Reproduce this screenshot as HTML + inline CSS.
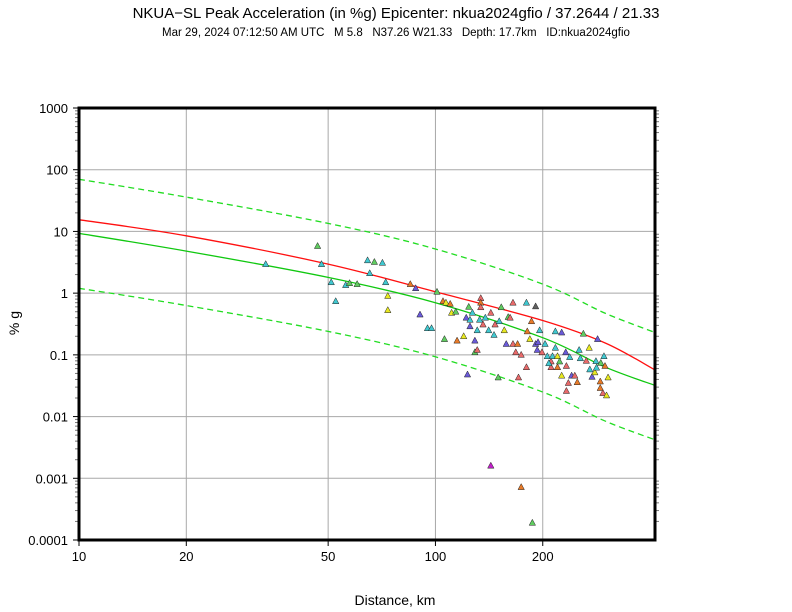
<!DOCTYPE html>
<html><head><meta charset="utf-8"><style>
body{margin:0;background:#fff;}
svg{display:block;font-family:"Liberation Sans",sans-serif;}
text{white-space:pre;}
</style></head><body>
<svg id="chart" width="792" height="612" xmlns="http://www.w3.org/2000/svg">
<text x="396" y="18" font-size="15" text-anchor="middle">NKUA−SL Peak Acceleration (in %g) Epicenter: nkua2024gfio / 37.2644 / 21.33</text>
<text x="396" y="36" font-size="11.5" text-anchor="middle" xml:space="preserve">Mar 29, 2024 07:12:50 AM UTC   M 5.8   N37.26 W21.33   Depth: 17.7km   ID:nkua2024gfio</text>
<text x="395" y="605" font-size="14" text-anchor="middle">Distance, km</text>
<text x="0" y="0" font-size="14" text-anchor="middle" transform="translate(19,323) rotate(-90)">% g</text>
<g id="grid"></g><g id="curves"></g><g id="pts"></g><g id="axes"></g>
</svg>
<script>
const xTicks=[10,20,50,100,200];
const xTickLabels=["10","20","50","100","200"];
const yTicks=[1000,100,10,1,0.1,0.01,0.001,0.0001];
const yTickLabels=["1000","100","10","1","0.1","0.01","0.001","0.0001"];
const curveDist=[10,20,50,100,200,300,413];
const redMean=[15.5,8.5,2.95,1.05,0.36,0.155,0.057];
const greenMean=[9.3,4.8,1.8,0.70,0.19,0.063,0.032];
const upperBand=[70,36,13.5,5.2,1.4,0.47,0.23];
const lowerBand=[1.2,0.63,0.24,0.093,0.025,0.0084,0.0042];
const stDist=[33.4,46.7,47.9,51,52.5,56,57.4,60.3,64.5,65.4,67.4,71,72.5,73.5,73.5,85,88,90.5,95,97.5,101,105,107,110,106,111,114,115,120,122,125,124,125,127,129,129,123,131,131,133,134,134,134,136,138,141,143,143,146,147,150,151,153,156,160,162,165,165,168,170,171,174,174,180,180,181,184,186,187,191,191,193,196,199,206,211,211,213,217,217,220,220,223,226,226,232,233,233,236,238,241,246,250,253,255,260,265,270,271,275,280,282,283,285,290,290,291,297,295,305,302,299,194,203,208,158];
const stPga=[2.95,5.8,2.95,1.5,0.74,1.35,1.45,1.4,3.4,2.1,3.2,3.1,1.5,0.9,0.53,1.4,1.2,0.45,0.27,0.27,1.05,0.74,0.7,0.67,0.18,0.48,0.5,0.17,0.2,0.4,0.37,0.6,0.29,0.48,0.17,0.11,0.048,0.12,0.25,0.37,0.83,0.7,0.59,0.31,0.4,0.25,0.48,0.0016,0.21,0.31,0.043,0.35,0.59,0.25,0.41,0.4,0.7,0.15,0.11,0.15,0.043,0.1,0.00072,0.063,0.7,0.24,0.18,0.35,0.00019,0.61,0.15,0.12,0.25,0.11,0.095,0.078,0.063,0.095,0.24,0.13,0.063,0.095,0.078,0.046,0.23,0.11,0.066,0.026,0.035,0.092,0.046,0.046,0.036,0.12,0.088,0.22,0.08,0.13,0.058,0.044,0.052,0.079,0.062,0.18,0.037,0.029,0.074,0.095,0.024,0.043,0.022,0.066,0.16,0.15,0.073,0.15];
const stColor=[0,5,0,0,0,0,5,5,0,0,5,0,0,1,1,2,4,4,0,0,5,2,1,2,5,1,5,2,1,4,0,5,4,0,4,5,4,3,0,0,3,2,3,3,0,0,3,6,0,3,5,0,5,1,5,3,3,3,3,2,3,3,2,3,0,2,1,2,5,7,4,4,0,3,0,3,3,0,0,0,2,1,5,1,4,4,3,3,3,0,4,3,2,0,0,5,3,1,0,4,1,0,0,4,2,2,5,0,3,1,1,2,4,0,0,4];
const palette=["#40c8d0","#e8e820","#e87a28","#e86a6a","#6a5ad8","#60cc60","#c020c8","#606060"];
const L=79,R=655,T=108,B=540,X0=1,X1=Math.log10(413),Y0=-4,Y1=3;
const sx=d=>L+(Math.log10(d)-X0)/(X1-X0)*(R-L);
const sy=v=>B-(Math.log10(v)-Y0)/(Y1-Y0)*(B-T);
const NS="http://www.w3.org/2000/svg";
function mk(tag,attrs,parent){const e=document.createElementNS(NS,tag);for(const k in attrs)e.setAttribute(k,attrs[k]);document.getElementById(parent).appendChild(e);return e;}
xTicks.forEach((t,i)=>{
  const g=mk('line',{x1:sx(t),x2:sx(t),y1:T,y2:B,stroke:'#a8a8a8','stroke-width':1},'grid');
  
  
  const tx=mk('text',{x:sx(t),y:B+21,'font-size':13,'text-anchor':'middle'},'axes');tx.textContent=xTickLabels[i];
  
  
  mk('line',{x1:sx(t),x2:sx(t),y1:B,y2:B+6,stroke:'#000'},'axes');
});
yTicks.forEach((t,i)=>{
  const g=mk('line',{x1:L,x2:R,y1:sy(t),y2:sy(t),stroke:'#a8a8a8','stroke-width':1},'grid');
  
  
  const tx=mk('text',{x:68,y:sy(t)+5,'font-size':13,'text-anchor':'end'},'axes');tx.textContent=yTickLabels[i];
  
  
  mk('line',{x1:L-6,x2:L,y1:sy(t),y2:sy(t),stroke:'#000'},'axes');
});
for(let e=-4;e<3;e++)for(let m=2;m<10;m++){const y=sy(m*Math.pow(10,e));
  mk('line',{x1:L-4,x2:L,y1:y,y2:y,stroke:'#777'},'axes');
  mk('line',{x1:R,x2:R+4,y1:y,y2:y,stroke:'#777'},'axes');}
function curve(vals,color,dash,name){
  const P=curveDist.map((x,i)=>[sx(x),sy(vals[i])]);
  let d='M'+P[0][0].toFixed(1)+','+P[0][1].toFixed(1);
  for(let i=0;i<P.length-1;i++){
    const p0=P[Math.max(i-1,0)],p1=P[i],p2=P[i+1],p3=P[Math.min(i+2,P.length-1)];
    const c1=[p1[0]+(p2[0]-p0[0])/6,p1[1]+(p2[1]-p0[1])/6];
    const c2=[p2[0]-(p3[0]-p1[0])/6,p2[1]-(p3[1]-p1[1])/6];
    d+=`C${c1[0].toFixed(1)},${c1[1].toFixed(1)} ${c2[0].toFixed(1)},${c2[1].toFixed(1)} ${p2[0].toFixed(1)},${p2[1].toFixed(1)}`;
  }
  const p=mk('path',{d:d,fill:'none',stroke:color,'stroke-width':1.3,'stroke-dasharray':dash||'none'},'curves');
  
  
}
curve(upperBand,'#22dd22','6,4','upper-sigma-line');
curve(lowerBand,'#22dd22','6,4','lower-sigma-line');
curve(greenMean,'#10c810',null,'gmpe-mean-line');
curve(redMean,'#ff1010',null,'bias-corrected-line');
stDist.forEach((d,i)=>{
  const x=sx(d),y=sy(stPga[i]);
  const p=mk('polygon',{points:`${x},${y-3.5} ${x-3.2},${y+2.5} ${x+3.2},${y+2.5}`,fill:palette[stColor[i]],stroke:'#222','stroke-width':0.5},'pts');
  
  
});
const fr=mk('rect',{x:L,y:T,width:R-L,height:B-T,fill:'none',stroke:'#000','stroke-width':3},'axes');


</script>
</body></html>
